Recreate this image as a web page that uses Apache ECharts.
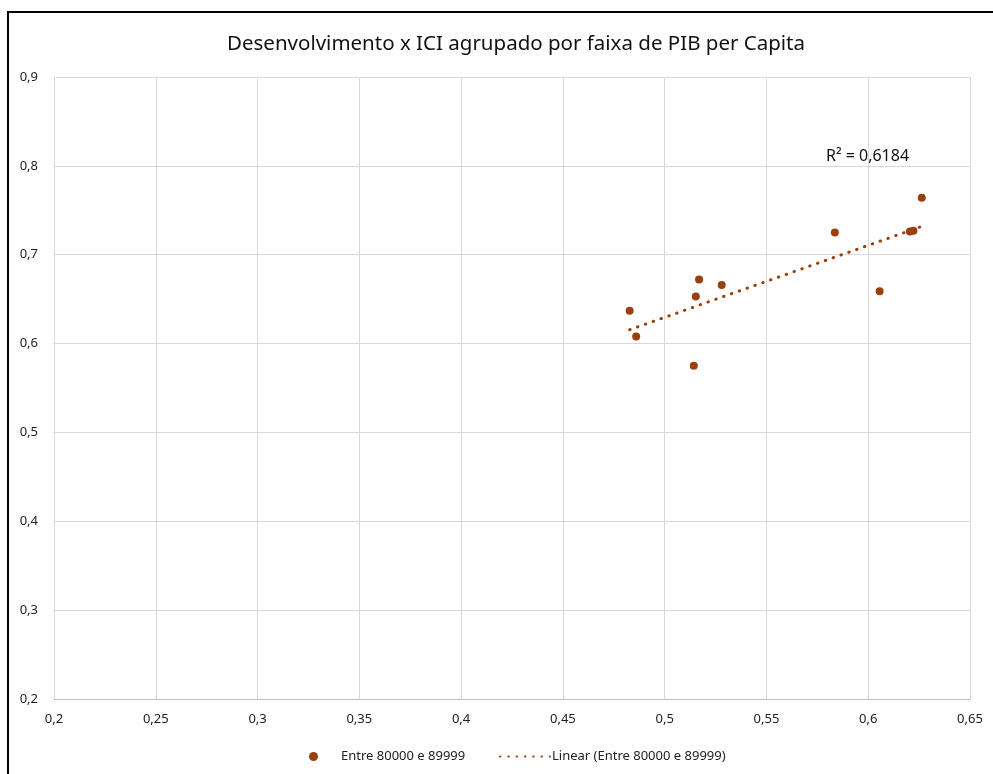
<!DOCTYPE html>
<html>
<head>
<meta charset="utf-8">
<script src="https://cdn.jsdelivr.net/npm/echarts@6/dist/echarts.min.js"></script>
<style>
  html, body { margin: 0; padding: 0; background: #fff; }
  #chart-container { width: 993px; height: 774px; }
</style>
</head>
<body>
<div id="chart-container"></div>
<script>
var dom = document.getElementById('chart-container');
var myChart = echarts.init(dom, null, { renderer: 'canvas' });

// values
var ptX = [0.4828, 0.486, 0.5143, 0.5153, 0.5169, 0.528, 0.5836, 0.6056, 0.6205, 0.6222, 0.6263];
var ptY = [0.637, 0.608, 0.575, 0.653, 0.672, 0.666, 0.725, 0.659, 0.726, 0.727, 0.764];
var seriesName = 'Entre 80000 e 89999';
var trendName = 'Linear (Entre 80000 e 89999)';
var r2Label = 'R\u00b2 = 0,6184';

const color = '#9C3F0F';

var points = ptX.map(function (x, i) { return [x, ptY[i]]; });

// least squares trend line
var n = ptX.length;
var mx = ptX.reduce(function (a, b) { return a + b; }, 0) / n;
var my = ptY.reduce(function (a, b) { return a + b; }, 0) / n;
var sxy = 0, sxx = 0;
for (var i = 0; i < n; i++) {
    sxy += (ptX[i] - mx) * (ptY[i] - my);
    sxx += (ptX[i] - mx) * (ptX[i] - mx);
}
var slope = sxy / sxx;
var icpt = my - slope * mx;
var xMin = Math.min.apply(null, ptX), xMax = Math.max.apply(null, ptX);
var trend = [[xMin, icpt + slope * xMin], [xMax, icpt + slope * xMax]];

function comma(v) { return String(+v.toFixed(2)).replace('.', ','); }

var option = {
    animation: false,
    textStyle: { fontFamily: 'Noto Sans' },
    title: {
        text: 'Desenvolvimento x ICI agrupado por faixa de PIB per Capita',
        left: 222,
        top: 29,
        textStyle: { fontSize: 20.5, fontWeight: 'normal', color: '#111', fontFamily: 'Noto Sans' }
    },
    grid: { left: 54, right: 23, top: 77, bottom: 75 },
    legend: [
        {
            data: [seriesName],
            left: 304, top: 745,
            icon: 'circle',
            itemWidth: 9, itemHeight: 9,
            textStyle: { fontSize: 13, color: '#222', padding: [0, 0, 0, 18] }
        },
        {
            data: [trendName],
            left: 494, top: 745,
            itemWidth: 50, itemHeight: 9,
            itemStyle: { opacity: 0 },
            textStyle: { fontSize: 13, color: '#222', padding: [0, 0, 0, -3] }
        }
    ],
    xAxis: {
        type: 'value',
        min: 0.2, max: 0.65, interval: 0.05,
        axisLine: { show: true, lineStyle: { color: '#bfbfbf' } },
        axisTick: { show: false },
        splitLine: { show: true, lineStyle: { color: '#d9d9d9' } },
        axisLabel: { formatter: comma, color: '#222', fontSize: 13, margin: 14 }
    },
    yAxis: {
        type: 'value',
        min: 0.2, max: 0.9, interval: 0.1,
        axisLine: { show: false },
        axisTick: { show: false },
        splitLine: { show: true, lineStyle: { color: '#d9d9d9' } },
        axisLabel: { formatter: comma, color: '#222', fontSize: 13, margin: 16 }
    },
    graphic: [
        {
            type: 'rect', silent: true,
            shape: { x: 8, y: 12, width: 1100, height: 900 },
            style: { fill: 'none', stroke: '#000', lineWidth: 2 }
        },
        {
            type: 'text', left: 826, top: 148,
            style: { text: r2Label, fontSize: 16, fill: '#111', fontFamily: 'Noto Sans' }
        }
    ],
    series: [
        {
            name: seriesName,
            type: 'scatter',
            symbolSize: 8,
            itemStyle: { color: color, opacity: 1 },
            data: points,
            z: 3
        },
        {
            name: trendName,
            type: 'line',
            showSymbol: false,
            symbol: 'none',
            itemStyle: { color: color },
            lineStyle: { color: color, width: 3, type: [0.5, 7.8], cap: 'round' },
            data: trend,
            z: 2
        }
    ]
};

myChart.setOption(option);
window.addEventListener('resize', myChart.resize);
</script>
</body>
</html>
